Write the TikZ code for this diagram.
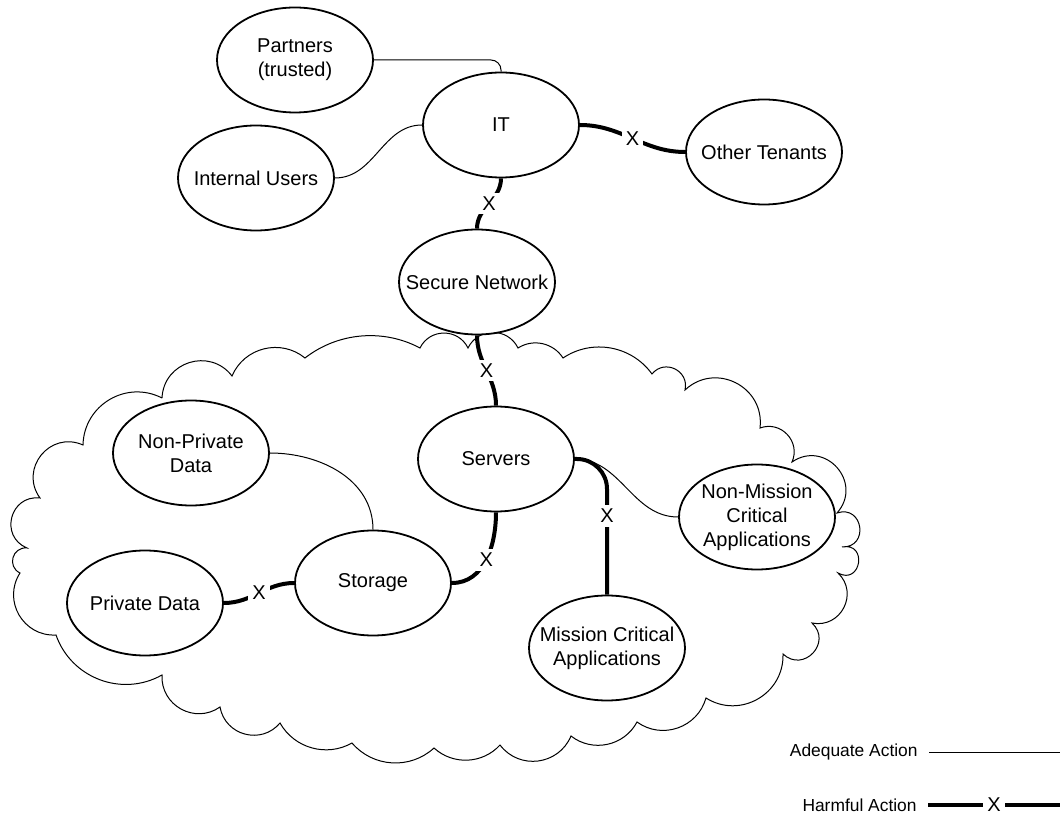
\documentclass[tikz,border=0pt]{standalone}
\usepackage{fontspec}
\setmainfont{Liberation Sans}
\usetikzlibrary{shapes.geometric}

\begin{document}
\begin{tikzpicture}[x=0.5pt, y=0.5pt,
    zone/.style={ellipse, draw, line width=0.9pt, fill=white,
        minimum width=78pt, minimum height=52.5pt, inner sep=0pt,
        label={[align=center, font=\fontsize{10}{12}\selectfont]center:#1}},
    fine/.style={line width=0.5pt},
    harm/.style={line width=2pt},
    cut/.style={fill=white, sharp corners, inner sep=2pt, font=\fontsize{10}{12}\selectfont},
    key/.style={anchor=east, inner xsep=5.5pt, font=\fontsize{8.7}{10}\selectfont},
    cloudline/.style={line width=0.5pt}]

    \useasboundingbox (0,0) rectangle (1060,-817);

    % cloud
    \draw[cloudline] (162,-398)
        \foreach \x/\y/\t [evaluate=\t as \lo using {0.6667*tan(\t/2)/(0.3915*sin(\t))}] in
        {232/376/70, 305/358/53, 420/348/33, 468/348/64, 518/348/64, 563/358/45,
         652/374/44, 685/390/77, 760/428/70, 792/462/67, 837/513/83, 842/547/100,
         838/573/110, 812/623/74, 783/654/90, 706/698/62, 637/722/55, 571/736/50,
         500/745/60, 434/748/45, 352/743/46, 280/723/45, 220/707/65, 162/675/64,
         56/635/50, 20/573/63, 27/548/80, 40/498/82, 83/445/75, 162/398/58}
        { to[bend left=\t, looseness=\lo] (\x,-\y) };

    % parties
    \node[zone={Partners\\(trusted)}] (partners) at (295,-60) {};
    \node[zone=IT] (it) at (501,-125) {};
    \node[zone=Internal Users] (users) at (256,-178) {};
    \node[zone=Other Tenants] (tenants) at (764,-152) {};
    \node[zone=Secure Network] (secnet) at (477,-282) {};
    \node[zone=Servers] (servers) at (496,-459) {};
    \node[zone={Non-Private\\Data}] (public) at (191,-453) {};
    \node[zone=Private Data] (private) at (145,-603) {};
    \node[zone=Storage] (storage) at (373,-583) {};
    \node[zone={Non-Mission\\Critical\\Applications}] (noncrit) at (757,-517) {};
    \node[zone={Mission Critical\\Applications}] (crit) at (607,-648) {};

    % adequate actions
    \draw[fine, rounded corners=5pt] (partners.east) -| (it.north);
    \draw[fine] (users.east) to[out=0, in=180] (it.west);
    \draw[fine] (public.east) to[out=0, in=90] (storage.north);
    \draw[fine] (servers.east) to[out=0, in=180] (noncrit.west);

    % harmful actions
    \draw[harm] (it.east) to[out=0, in=180] node[cut] (x1) {X} (tenants.west);
    \draw[harm] (it.south) to[out=-90, in=90] node[cut] (x2) {X} (secnet.north);
    \draw[harm] (secnet.south) to[out=-90, in=90] node[cut] (x3) {X} (servers.north);
    \draw[harm] (servers.south) to[out=-90, in=0] node[cut] (x4) {X} (storage.east);
    \draw[harm] (storage.west) to[out=180, in=0] node[cut] (x5) {X} (private.east);
    \draw[harm, rounded corners=15pt] (servers.east) -| node[cut, pos=0.71] (x6) {X} (crit.north);

    % legend
    \node[key] (adequate) at (929,-752) {Adequate Action};
    \coordinate (adequateend) at (1060,-752);
    \draw[fine] (adequate.east) -- (adequateend);
    \node[key] (harmful) at (928,-805) {Harmful Action};
    \coordinate (harmfulend) at (1060,-805);
    \draw[harm] (harmful.east) -- node[cut] (x7) {X} (harmfulend);
\end{tikzpicture}
\end{document}
